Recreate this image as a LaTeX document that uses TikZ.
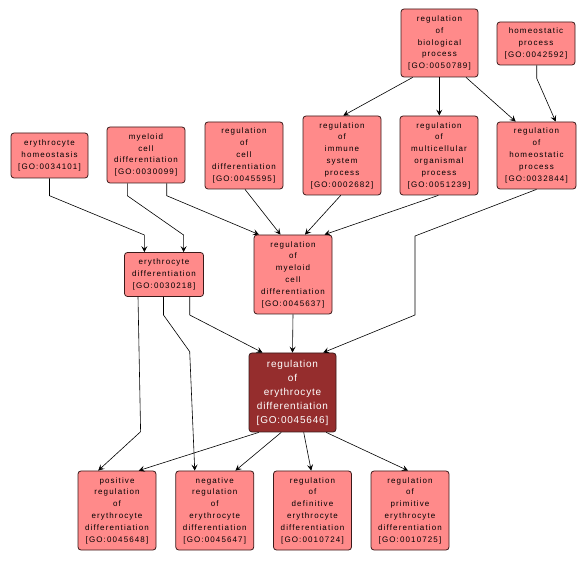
\documentclass[tikz,border=0pt]{standalone}
\usepackage{fontspec}
\newfontfamily\gofont[LetterSpace=14]{Liberation Sans}
\newfontfamily\gofontmain[LetterSpace=8]{Liberation Sans}
\usetikzlibrary{arrows.meta}
\definecolor{gopink}{HTML}{FF8A8A}
\definecolor{gored}{HTML}{952D2D}
\definecolor{goedge}{HTML}{3A1A1A}
\tikzset{
  gobox/.style={draw=goedge, fill=gopink, rounded corners=3pt, line width=0.8pt,
    align=center, inner sep=0pt, text width=76pt,
    font=\gofont\fontsize{8}{11.8}\selectfont},
  mainbox/.style={draw=goedge, fill=gored, rounded corners=3pt, line width=0.8pt,
    align=center, inner sep=0pt, text width=86pt, text=white,
    font=\gofontmain\fontsize{10}{14}\selectfont},
  arr/.style={draw=black, line width=0.6pt, -{Stealth[length=6pt,width=6pt,inset=2.5pt]}},
}
\begin{document}
\begin{tikzpicture}[x=1pt,y=-1pt]
\useasboundingbox[fill=white] (0,0) rectangle (587,561);
% nodes
\node[gobox, minimum width=77pt, minimum height=45pt] (eh) at (49.5,155.5) {erythrocyte\\homeostasis\\{[}GO:0034101{]}};
\node[gobox, minimum width=78pt, minimum height=56pt] (mcd) at (146,155) {myeloid\\cell\\differentiation\\{[}GO:0030099{]}};
\node[gobox, minimum width=78pt, minimum height=67pt] (rcd) at (244,155.5) {regulation\\of\\cell\\differentiation\\{[}GO:0045595{]}};
\node[gobox, minimum width=77pt, minimum height=68pt] (rbp) at (439.5,43) {regulation\\of\\biological\\process\\{[}GO:0050789{]}};
\node[gobox, minimum width=78pt, minimum height=43pt] (hp) at (536,43.5) {homeostatic\\process\\{[}GO:0042592{]}};
\node[gobox, minimum width=78pt, minimum height=79pt] (ris) at (342,155.5) {regulation\\of\\immune\\system\\process\\{[}GO:0002682{]}};
\node[gobox, minimum width=78pt, minimum height=79pt] (rmo) at (439,155.5) {regulation\\of\\multicellular\\organismal\\process\\{[}GO:0051239{]}};
\node[gobox, minimum width=79pt, minimum height=67pt] (rhp) at (536.5,155.5) {regulation\\of\\homeostatic\\process\\{[}GO:0032844{]}};
\node[gobox, minimum width=79pt, minimum height=44pt] (ed) at (164,274.5) {erythrocyte\\differentiation\\{[}GO:0030218{]}};
\node[gobox, minimum width=78pt, minimum height=79pt] (rmcd) at (293,274.5) {regulation\\of\\myeloid\\cell\\differentiation\\{[}GO:0045637{]}};
\node[mainbox, minimum width=87pt, minimum height=79pt] (main) at (292.5,392.5) {regulation\\of\\erythrocyte\\differentiation\\{[}GO:0045646{]}};
\node[gobox, minimum width=78pt, minimum height=79pt] (pos) at (117,510.5) {positive\\regulation\\of\\erythrocyte\\differentiation\\{[}GO:0045648{]}};
\node[gobox, minimum width=78pt, minimum height=79pt] (neg) at (214.75,510.5) {negative\\regulation\\of\\erythrocyte\\differentiation\\{[}GO:0045647{]}};
\node[gobox, minimum width=78pt, minimum height=79pt] (def) at (312.5,510.5) {regulation\\of\\definitive\\erythrocyte\\differentiation\\{[}GO:0010724{]}};
\node[gobox, minimum width=78pt, minimum height=79pt] (prim) at (410,510.5) {regulation\\of\\primitive\\erythrocyte\\differentiation\\{[}GO:0010725{]}};
% edges
\draw[arr] (eh.south) -- (49.5,195.7) -- (144.4,235) -- ([xshift=-19.6]ed.north);
\draw[arr] ([xshift=-18.7]mcd.south) -- (127.3,195.7) -- (183.6,235) -- ([xshift=19.6]ed.north);
\draw[arr] ([xshift=20.7]mcd.south) -- (166.7,195.7) -- ([xshift=-34]rmcd.north);
\draw[arr] ([xshift=1]rcd.south) -- ([xshift=-12.5]rmcd.north);
\draw[arr] ([xshift=-1.3]ris.south) -- ([xshift=12]rmcd.north);
\draw[arr] ([xshift=-0.7]rmo.south) -- ([xshift=31.5]rmcd.north);
\draw[arr] ([xshift=-26.8]rbp.south) -- ([xshift=1.3]ris.north);
\draw[arr] ([xshift=-0.2]rbp.south) -- ([xshift=0.3]rmo.north);
\draw[arr] ([xshift=26.5]rbp.south) -- ([xshift=-20.8]rhp.north);
\draw[arr] ([xshift=0.7]hp.south) -- (536.7,78.3) -- ([xshift=19.2]rhp.north);
\draw[arr] (rhp.south) -- (415,236) -- (415,315) -- ([xshift=30.7]main.north);
\draw[arr] ([xshift=25.7]ed.south) -- (189.7,315) -- ([xshift=-30]main.north);
\draw[arr] (rmcd.south) -- (main.north);
\draw[arr] ([xshift=-26]ed.south) -- (140.6,431.7) -- ([xshift=-18.8]pos.north);
\draw[arr] ([xshift=-0.5]ed.south) -- (163.5,315) -- (189.7,351.7) -- ([xshift=-20]neg.north);
\draw[arr] ([xshift=-33.8]main.south) -- ([xshift=21.7]pos.north);
\draw[arr] ([xshift=-11.3]main.south) -- ([xshift=20.7]neg.north);
\draw[arr] ([xshift=11.2]main.south) -- ([xshift=-1.3]def.north);
\draw[arr] ([xshift=33.7]main.south) -- ([xshift=-2]prim.north);
\end{tikzpicture}
\end{document}
